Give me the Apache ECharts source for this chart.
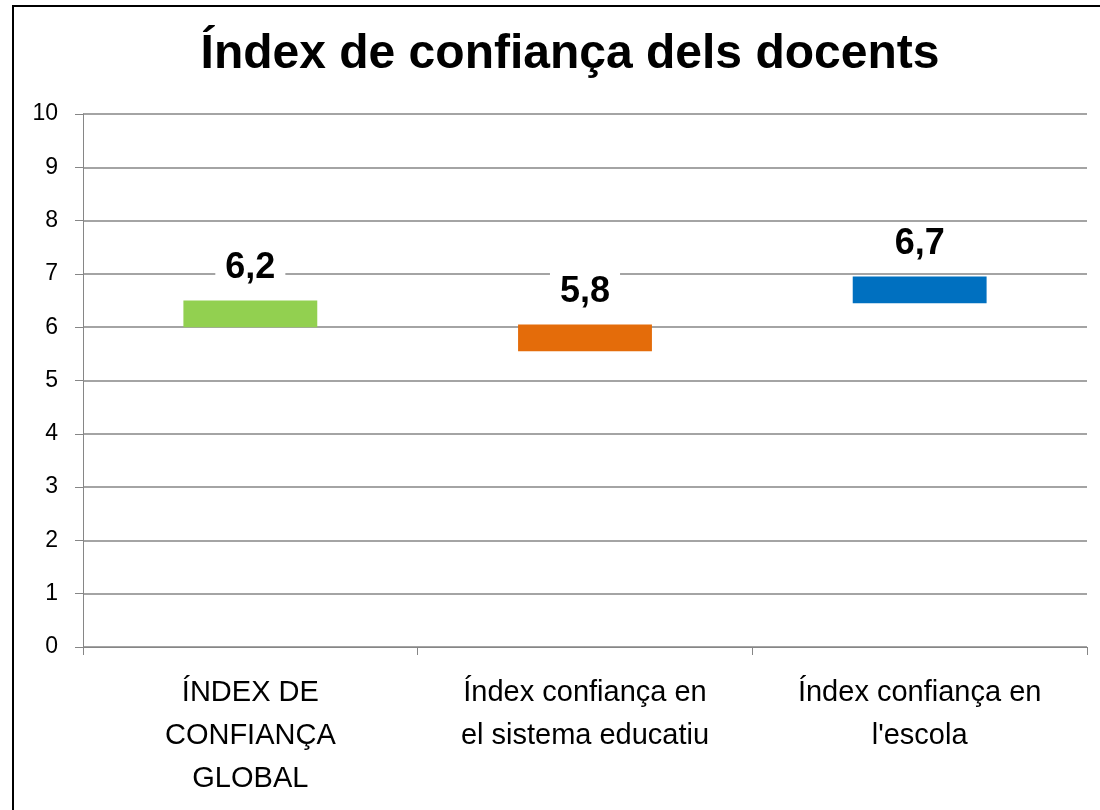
<!DOCTYPE html>
<html>
<head>
<meta charset="utf-8">
<script src="https://cdn.jsdelivr.net/npm/echarts@6/dist/echarts.min.js"></script>
<style>
  html, body { margin: 0; padding: 0; background: #fff; overflow: hidden; }
  #frame { position: absolute; left: 12px; top: 5px; width: 1200px; height: 900px;
           border-left: 2px solid #000; border-top: 2px solid #000; }
  #chart { position: absolute; left: 0; top: 0; width: 1100px; height: 810px; }
</style>
</head>
<body>
<div id="frame"></div>
<div id="chart"></div>
<script>
// Floating bars: each mark spans low..high, labelled with the index value
const categories = ['ÍNDEX DE\nCONFIANÇA\nGLOBAL', 'Índex confiança en\nel sistema educatiu', 'Índex confiança en\nl\'escola']
const lows = [6.0, 5.55, 6.45]
const highs = [6.5, 6.05, 6.95]
const indexValues = [6.2, 5.8, 6.7]
const barColors = ['#92D050', '#E46C0A', '#0070C0']
const yTicks = [0, 10, 1]

const chart = echarts.init(document.getElementById('chart'))

const gray = '#868686'

chart.setOption({
  animation: false,
  backgroundColor: 'transparent',
  title: {
    text: 'Índex de confiança dels docents',
    left: 565,
    top: 26,
    textAlign: 'center',
    textStyle: { fontFamily: 'Liberation Sans', fontWeight: 'bold', fontSize: 48, color: '#000' },
  },
  grid: { left: 83, right: 13, top: 114, bottom: 163 },
  xAxis: {
    type: 'category',
    data: categories,
    axisLine: { lineStyle: { color: gray, width: 1 } },
    axisTick: { show: true, length: 8, lineStyle: { color: gray } },
    axisLabel: {
      margin: 24,
      fontFamily: 'Liberation Sans',
      fontSize: 29,
      lineHeight: 43,
      color: '#000',
      interval: 0,
    },
  },
  yAxis: {
    type: 'value',
    min: yTicks[0],
    max: yTicks[1],
    interval: yTicks[2],
    axisLine: { show: true, lineStyle: { color: gray } },
    axisTick: { show: true, length: 8, lineStyle: { color: gray } },
    splitLine: { lineStyle: { color: gray, width: 1.5 } },
    axisLabel: { margin: 25, fontFamily: 'Liberation Sans', fontSize: 23, color: '#000' },
  },
  series: [
    {
      type: 'bar',
      stack: 'range',
      barWidth: '40%',
      data: lows,
      itemStyle: { color: 'transparent' },
      silent: true,
    },
    {
      type: 'bar',
      stack: 'range',
      barWidth: '40%',
      data: highs.map((h, i) => ({
        value: +(h - lows[i]).toFixed(2),
        itemStyle: { color: barColors[i] },
      })),
      label: {
        show: true,
        position: 'top',
        distance: 11,
        formatter: p => String(indexValues[p.dataIndex]).replace('.', ','),
        fontFamily: 'Liberation Sans',
        fontWeight: 'bold',
        fontSize: 36,
        color: '#000',
        backgroundColor: '#fff',
        padding: [3, 10],
      },
    },
  ],
})
</script>
</body>
</html>
